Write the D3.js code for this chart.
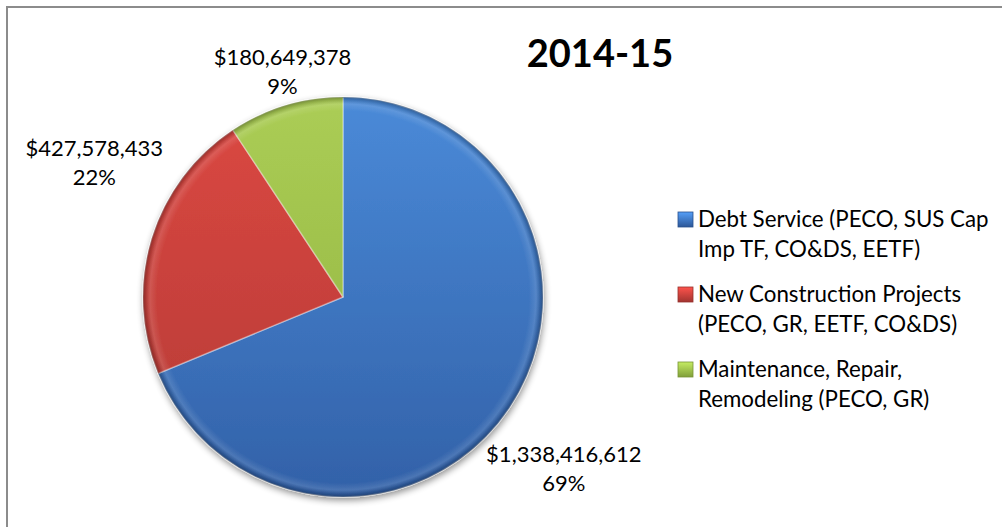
<!DOCTYPE html>
<html>
<head>
<meta charset="utf-8">
<script src="https://cdn.jsdelivr.net/npm/d3@7"></script>
<style>
  html, body { margin: 0; padding: 0; background: #fff; }
  svg { display: block; }
</style>
</head>
<body>
<svg id="chart" width="1002" height="527"></svg>
<script>
// Capital outlay by funding purpose, 2014-15
const title = "2014-15";
const categories = [
  ["Debt Service (PECO, SUS Cap", "Imp TF, CO&DS, EETF)"],
  ["New Construction Projects", "(PECO, GR, EETF, CO&DS)"],
  ["Maintenance, Repair,", "Remodeling (PECO, GR)"]
];
const values = [1338416612, 427578433, 180649378];
const colorsLight = ["#4a8ad8", "#dc4842", "#abcd55"];
const colorsDark = ["#3261a8", "#b33a35", "#8fb140"];

const W = 1002, H = 527;
const svg = d3.select("#chart");
const font = "Lato, 'Open Sans', sans-serif";

// outer frame (runs off the right and bottom edges)
svg.append("rect")
  .attr("x", 7).attr("y", 7)
  .attr("width", W + 10).attr("height", H + 10)
  .attr("fill", "#fff")
  .attr("stroke", "#8c8c8c").attr("stroke-width", 2);

const cx = 343, cy = 297, R = 200;
const defs = svg.append("defs");

// soft shadow under the pie
const sh = defs.append("filter").attr("id", "pieShadow")
  .attr("x", "-20%").attr("y", "-20%").attr("width", "140%").attr("height", "140%");
sh.append("feGaussianBlur").attr("in", "SourceAlpha").attr("stdDeviation", 3.5).attr("result", "b");
sh.append("feOffset").attr("in", "b").attr("dx", 1).attr("dy", 3).attr("result", "o");
sh.append("feComponentTransfer").attr("in", "o").attr("result", "s")
  .append("feFuncA").attr("type", "linear").attr("slope", 0.45);
const mg = sh.append("feMerge");
mg.append("feMergeNode").attr("in", "s");
mg.append("feMergeNode").attr("in", "SourceGraphic");

// per-slice vertical gradients (in the pie group's coordinates) and legend key gradients
values.forEach((v, i) => {
  const g = defs.append("linearGradient").attr("id", "fill" + i)
    .attr("gradientUnits", "userSpaceOnUse")
    .attr("x1", 0).attr("x2", 0).attr("y1", -R).attr("y2", R);
  g.append("stop").attr("offset", 0).attr("stop-color", colorsLight[i]);
  g.append("stop").attr("offset", 1).attr("stop-color", colorsDark[i]);
  const lg = defs.append("linearGradient").attr("id", "key" + i)
    .attr("x1", 0).attr("x2", 0).attr("y1", 0).attr("y2", 1);
  lg.append("stop").attr("offset", 0).attr("stop-color", d3.color(colorsLight[i]).brighter(0.4));
  lg.append("stop").attr("offset", 1).attr("stop-color", d3.color(colorsDark[i]).darker(0.3));
});

// bevelled rim
const rim = defs.append("radialGradient").attr("id", "rim")
  .attr("gradientUnits", "userSpaceOnUse")
  .attr("cx", 0).attr("cy", 0).attr("r", R);
rim.append("stop").attr("offset", 0.93).attr("stop-color", "#fff").attr("stop-opacity", 0);
rim.append("stop").attr("offset", 0.965).attr("stop-color", "#fff").attr("stop-opacity", 0.12);
rim.append("stop").attr("offset", 0.985).attr("stop-color", "#000").attr("stop-opacity", 0.14);
rim.append("stop").attr("offset", 1).attr("stop-color", "#000").attr("stop-opacity", 0.32);

const pie = d3.pie().sort(null).value(d => d);
const arcs = pie(values);
const arc = d3.arc().innerRadius(0).outerRadius(R);
const total = d3.sum(values);
const pct = d3.format(".0%");
const money = v => "$" + d3.format(",")(v);

// slices
const pg = svg.append("g")
  .attr("transform", `translate(${cx},${cy})`)
  .attr("filter", "url(#pieShadow)");
pg.selectAll("path").data(arcs).join("path")
  .attr("d", arc)
  .attr("fill", (d, i) => `url(#fill${i})`)
  .attr("stroke", "rgba(255,255,255,0.35)")
  .attr("stroke-width", 1.5)
  .attr("stroke-linejoin", "round");
pg.append("circle")
  .attr("r", R)
  .attr("fill", "url(#rim)")
  .attr("pointer-events", "none");

// data labels: value and share, placed outside each slice
const labelArc = d3.arc().innerRadius(280).outerRadius(280);
const labelNudge = [[-12, 9], [19, -59], [20, 36]];
const lbl = svg.append("g").attr("font-family", font).attr("font-size", 22).attr("fill", "#000")
  .attr("text-anchor", "middle");
arcs.forEach((d, i) => {
  const [x, y] = labelArc.centroid(d);
  const g = lbl.append("g")
    .attr("transform", `translate(${cx + x + labelNudge[i][0]},${cy + y + labelNudge[i][1]})`);
  g.append("text").attr("y", 0).text(money(d.data));
  g.append("text").attr("y", 29).text(pct(d.data / total));
});

// title
svg.append("text")
  .attr("x", 600).attr("y", 67)
  .attr("text-anchor", "middle")
  .attr("font-family", font).attr("font-weight", "bold").attr("font-size", 38)
  .text(title);

// legend
const leg = svg.append("g").attr("transform", "translate(678,227)")
  .attr("font-family", font).attr("font-size", 22.3).attr("fill", "#000");
categories.forEach((lines, i) => {
  const g = leg.append("g").attr("transform", `translate(0,${i * 75})`);
  g.append("rect").attr("x", 0).attr("y", -15).attr("width", 15).attr("height", 15)
    .attr("fill", `url(#key${i})`)
    .attr("stroke", d3.color(colorsDark[i]).darker(0.5)).attr("stroke-width", 0.8);
  lines.forEach((t, j) => {
    g.append("text").attr("x", 20).attr("y", j * 29.5).text(t);
  });
});
</script>
</body>
</html>
